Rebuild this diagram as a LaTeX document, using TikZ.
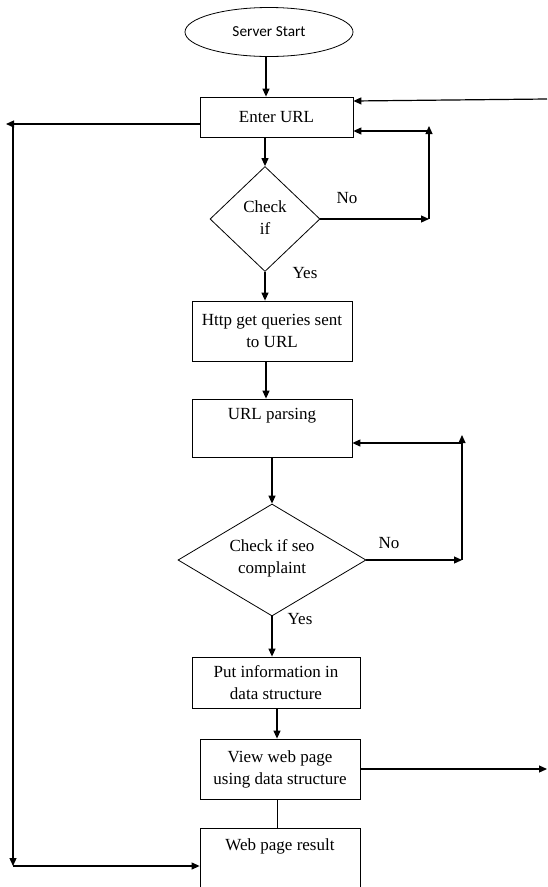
\documentclass[tikz,border=0pt]{standalone}
\usepackage{fontspec}
\setmainfont{Liberation Serif}
\newfontfamily\calib{Carlito}
\usetikzlibrary{shapes.geometric,arrows.meta}
\begin{document}
\begin{tikzpicture}[x=1pt,y=-1pt,
  box/.style={draw,line width=0.8pt,rectangle,inner sep=0pt},
  dia/.style={draw,line width=0.8pt,diamond,inner sep=0pt},
  txt/.style={font=\fontsize{17}{22}\selectfont,align=center,inner sep=0pt},
  arr/.style={line width=1.2pt,-{Triangle[length=8pt,width=7pt]}},
  thin/.style={line width=0.8pt}]
\useasboundingbox (0,0) rectangle (547,887);
% nodes
\node[draw,line width=0.8pt,ellipse,minimum width=168,minimum height=49,inner sep=0pt,font=\calib\fontsize{15.3}{17}\selectfont] (start) at (269,32) {Server Start};
\node[box,minimum width=153,minimum height=40,txt] (url) at (276.5,117) {Enter URL};
\node[dia,minimum width=110,minimum height=105] (c1) at (265,219) {};
\node[txt] at (265,218) {Check\\if};
\node[box,minimum width=160,minimum height=60,txt] (http) at (272,331) {Http get queries sent\\to URL};
\node[box,minimum width=160,minimum height=58] (parse) at (272,428) {};
\node[txt,anchor=north] (parset) at (272,408) {URL parsing};
\node[dia,minimum width=188,minimum height=112] (c2) at (272,560) {};
\node[txt] at (272,558) {Check if seo\\complaint};
\node[box,minimum width=168,minimum height=51,txt] (put) at (276,682.5) {Put information in\\data structure};
\node[box,minimum width=160,minimum height=60,txt] (view) at (280,769) {View web page\\using data structure};
\node[box,minimum width=160,minimum height=80] (res) at (280,868) {};
\node[txt,anchor=north] (rest) at (280,838) {Web page result};
% labels
\node[txt] (no1) at (347,198) {No};
\node[txt] (yes1) at (305,273) {Yes};
\node[txt] (no2) at (389,543) {No};
\node[txt] (yes2) at (300,619) {Yes};
% helper coordinates
\coordinate (xa) at (266,0);
\coordinate (xb) at (277,0);
\coordinate (r1) at (429,219);
\coordinate (r1t) at (429,126);
\coordinate (r1h) at (429,131);
\coordinate (r2) at (462,560);
\coordinate (r2t) at (462,435);
\coordinate (r2h) at (462,443);
\coordinate (tr) at (547,99);
\coordinate (lt) at (6,124);
\coordinate (lv) at (13,124);
\coordinate (lb) at (13,866);
\coordinate (ve) at (547,769);
% main flow
\draw[arr] (start.south -| xa) -- (url.north -| xa);
\draw[arr] (url.south -| c1.north) -- (c1.north);
\draw[arr] (c1.south) -- (http.north -| c1.south);
\draw[arr] (http.south -| xa) -- (parse.north -| xa);
\draw[arr] (parse.south -| c2.north) -- (c2.north);
\draw[arr] (c2.south) -- (put.north -| c2.south);
\draw[arr] (put.south -| xb) -- (view.north -| xb);
\draw[thin] (view.south -| xb) -- (res.north -| xb);
\draw[arr] (view.east |- ve) -- (ve);
% loop 1
\draw[arr] (c1.east) -- (r1);
\draw[arr] (r1) -- (r1t);
\draw[arr] (r1h) -- (url.east |- r1h);
\draw[arr] (tr) -- (url.east |- 0,101);
% loop 2
\draw[arr] (c2.east) -- (r2);
\draw[arr] (r2) -- (r2t);
\draw[arr] (r2h) -- (parse.east |- r2h);
% left loop
\draw[arr] (url.west |- lt) -- (lt);
\draw[arr] (lv) -- (lb);
\draw[arr] (lb) -- (res.west |- lb);
\end{tikzpicture}
\end{document}
